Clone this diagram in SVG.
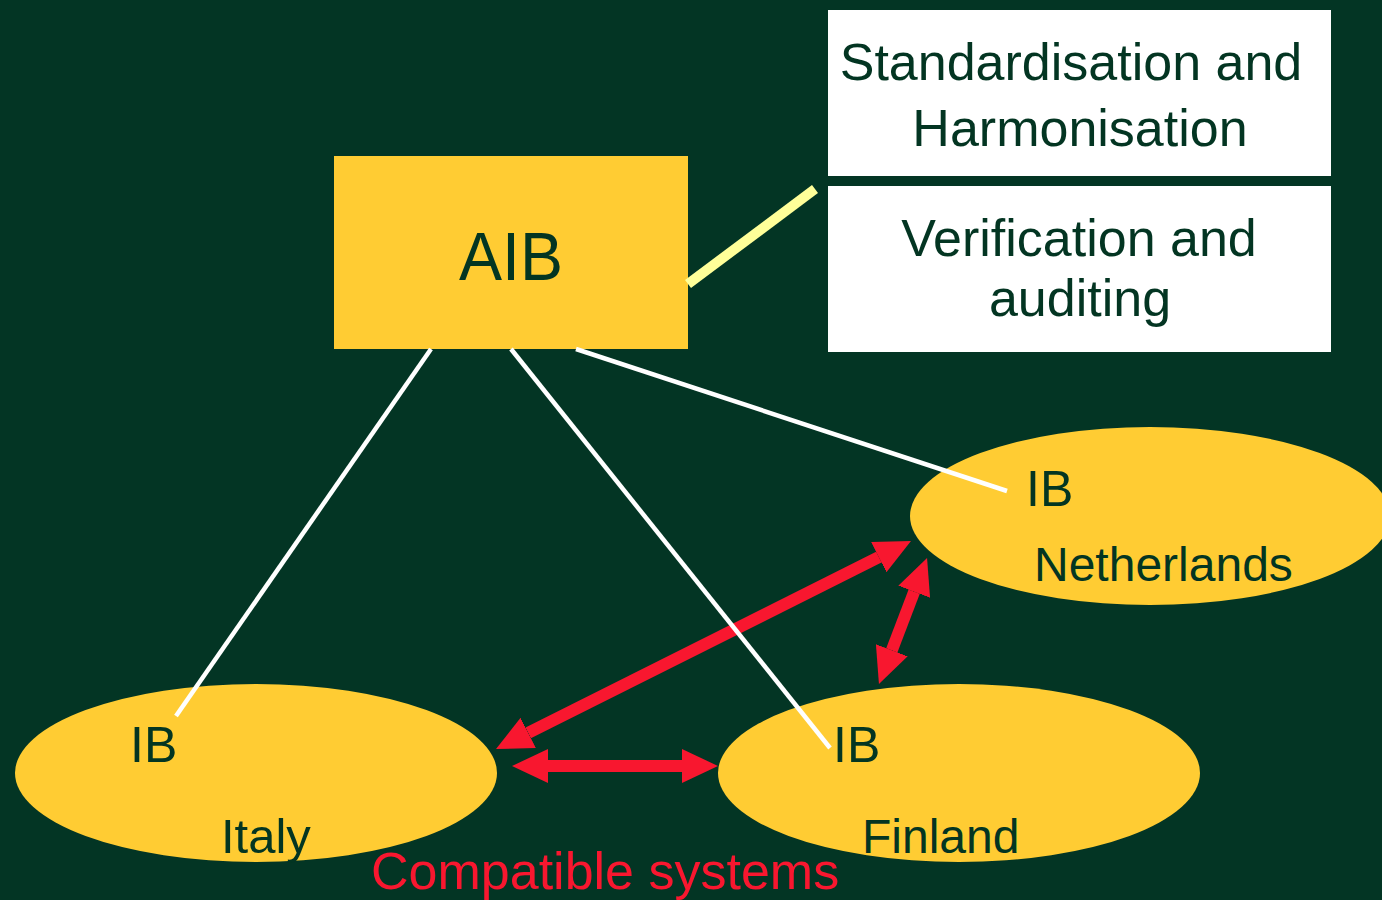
<svg xmlns="http://www.w3.org/2000/svg" width="1382" height="900" viewBox="0 0 1382 900">
<style>
  .t { font-family: "Liberation Sans", Arial, sans-serif; fill: #033522; }
  .node { fill: #FFCC33; }
  .box { fill: #FFFFFF; }
  .link { stroke: #FFFFFF; stroke-width: 4.5; fill: none; }
  .arr { stroke: #F8172F; stroke-width: 12; fill: none; marker-start: url(#head); marker-end: url(#head); }
</style>
<defs>
  <marker id="head" markerUnits="userSpaceOnUse" markerWidth="37" markerHeight="36" refX="0" refY="17" orient="auto-start-reverse" viewBox="0 0 37 34">
    <path d="M0,0 L36,17 L0,34 z" fill="#F8172F"/>
  </marker>
</defs>
<rect width="1382" height="900" fill="#033524"/>

<g id="aib">
  <rect class="node" x="334" y="156" width="354" height="193"/>
  <text class="t" x="511" y="280" font-size="68" text-anchor="middle" textLength="104" lengthAdjust="spacingAndGlyphs">AIB</text>
</g>

<g id="standardisation">
  <rect class="box" x="828" y="10" width="503" height="166"/>
  <text class="t" x="1071" y="80" font-size="52" text-anchor="middle">Standardisation and</text>
  <text class="t" x="1080" y="146" font-size="52" text-anchor="middle">Harmonisation</text>
</g>

<g id="verification">
  <rect class="box" x="828" y="186" width="503" height="166"/>
  <text class="t" x="1079" y="256" font-size="52" text-anchor="middle">Verification and</text>
  <text class="t" x="1080" y="316" font-size="52" text-anchor="middle">auditing</text>
</g>

<g id="italy">
  <ellipse class="node" cx="256" cy="773" rx="241" ry="89"/>
  <text class="t" x="130" y="762" font-size="50">IB</text>
  <text class="t" x="221" y="853" font-size="49">Italy</text>
</g>

<g id="finland">
  <ellipse class="node" cx="959" cy="773" rx="241" ry="89"/>
  <text class="t" x="833" y="762" font-size="50">IB</text>
  <text class="t" x="862" y="853" font-size="48">Finland</text>
</g>

<g id="netherlands">
  <ellipse class="node" cx="1150" cy="516" rx="240" ry="89"/>
  <text class="t" x="1026" y="506" font-size="50">IB</text>
  <text class="t" x="1034" y="581" font-size="48">Netherlands</text>
</g>

<g id="connectors">
  <line class="arr" x1="548" y1="766" x2="682" y2="766"/>
  <line class="arr" x1="528.2" y1="732.9" x2="878.8" y2="557.1"/>
  <line class="arr" x1="891.8" y1="650.3" x2="914.2" y2="591.7"/>
  <line class="link" x1="431" y1="349" x2="176" y2="716"/>
  <line class="link" x1="511" y1="349" x2="830" y2="748"/>
  <line class="link" x1="576" y1="349" x2="1007" y2="491"/>
  <line x1="688" y1="284" x2="815" y2="189" stroke="#FFFF99" stroke-width="10"/>
</g>

<g id="caption">
  <text x="371" y="889" font-size="52" font-family="Liberation Sans, Arial, sans-serif" fill="#F8172F">Compatible systems</text>
</g>
</svg>
